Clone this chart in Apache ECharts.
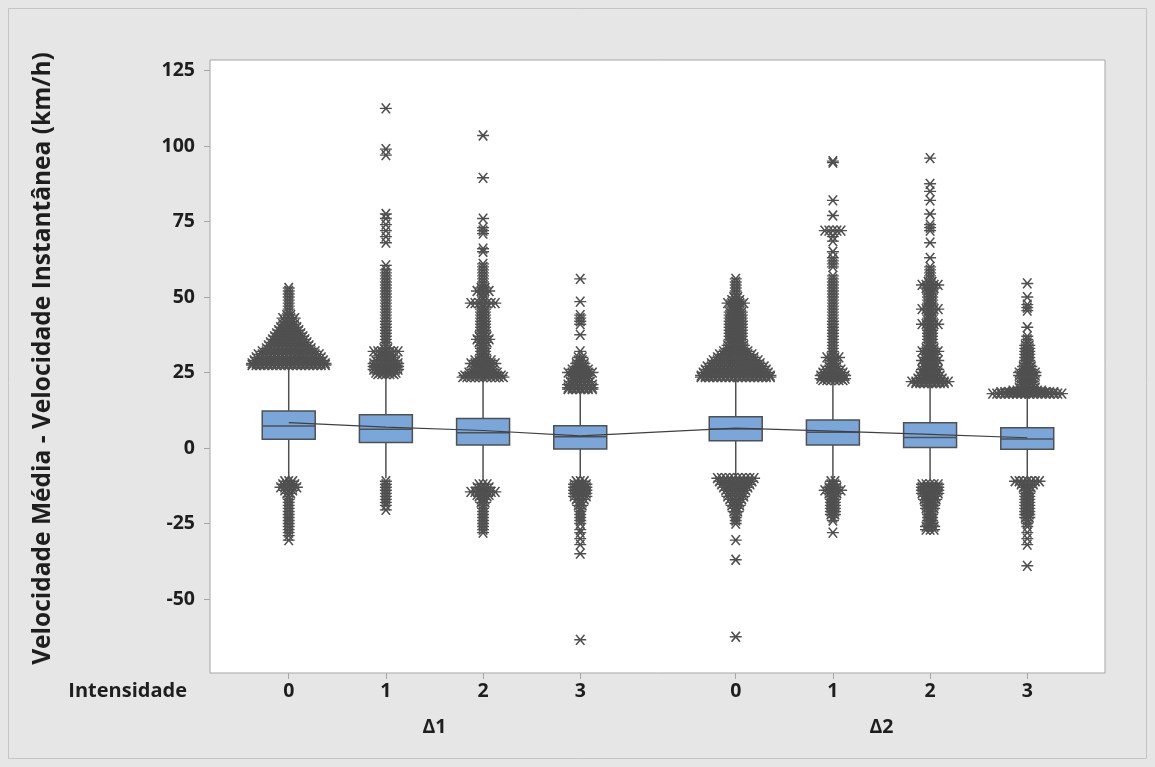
<!DOCTYPE html>
<html><head><meta charset="utf-8">
<script src="https://cdn.jsdelivr.net/npm/echarts@6/dist/echarts.min.js"></script>
<style>html,body{margin:0;padding:0;background:#e6e6e6}#c{width:1155px;height:767px}</style>
</head><body><div id="c"></div>
<script>
// ---- data ----
const groups = ['Δ1', 'Δ2'];
const levels = ['0', '1', '2', '3'];
const yTicks = [-50, -25, 0, 25, 50, 75, 100, 125];

const q1 = [2.9, 1.8, 1.0, -0.3, 2.4, 1.0, 0.2, -0.4];
const median = [7.3, 6.2, 5.1, 3.7, 6.3, 5.2, 3.5, 3.0];
const q3 = [12.3, 11.0, 9.8, 7.4, 10.4, 9.3, 8.4, 6.7];
const mean = [8.4, 6.9, 5.8, 4.0, 6.6, 5.6, 4.5, 3.4];
const whiskerHigh = [26.5, 24, 23, 19, 22.5, 21.5, 20.5, 17.5];
const whiskerLow = [-10.5, -10, -11, -10, -9, -10, -11, -10.5];

// outliers: [value, number of coincident asterisks at that level]
const outD1I0 = [[53,1],[52,1],[51,1],[50,1],[49,1],[48,1],[47,1],[46,1],[45,1],[44,2],[43,4],[42,3],[41,4],[40,5],[39,6],[38,7],[37,8],[36,9],[35,10],[34,11],[33,12],[32,14],[31,16],[30,17],[29,18],[28,19],[27.5,19],
  [-11,3],[-12,4],[-13,5],[-14,3],[-15,2],[-16,1],[-17,1],[-18,1],[-19,1],[-20,1],[-21,1],[-22,1],[-23,1],[-24,1],[-25,1],[-26,1],[-27,1],[-28,1],[-29,1],[-30.5,1]];
const outD1I1 = [[112.5,1],[99,1],[97,1],[77.5,1],[76,1],[74,1],[72,1],[70,1],[68,1],[60.5,1],[59,1],[58,1],[57,1],[56,1],[55,1],[54,1],[53,1],[52,1],[51,1],[50,1],[49,1],[48,1],[47,1],[46,1],[45,1],[44,1],[43,1],[42,1],[41,1],[40,1],[39,1],[38,1],[37,1],[36,1],[35,1],[34,1],[33,2],[32,7],[31,3],[30,5],[29,6],[28,7],[27,7],[26,7],[25,6],[24.5,5],
  [-11,1],[-12,1],[-13,1],[-14,1],[-15,1],[-16,1],[-17,1],[-18,1],[-19,1],[-20.5,1]];
const outD1I2 = [[103.5,1],[89.5,1],[76,1],[73,1],[72,1],[71,1],[66,1],[65,1],[61,1],[60,1],[59,1],[58,1],[57,1],[56,1],[55,1],[54,1],[53,2],[52,4],[51,1],[50,1],[49,1],[48,7],[47,1],[46,2],[45,2],[44,2],[43,2],[42,2],[41,2],[40,2],[39,2],[38,2],[37,3],[36,4],[35,3],[34,2],[33,2],[32,2],[31,2],[30,2],[29,5],[28,7],[27,5],[26,6],[25,8],[24,10],[23.5,11],
  [-12,3],[-13,4],[-14.5,7],[-15.5,4],[-16,3],[-17,2],[-18,2],[-19,1],[-20,1],[-21,1],[-22,1],[-23,1],[-24,1],[-25,1],[-26,1],[-27,1],[-28,1]];
const outD1I3 = [[56,1],[48.5,1],[44,1],[43,1],[42,1],[41,1],[37.5,1],[32,1],[30,2],[29,2],[28,3],[27,3],[26,5],[25,7],[24,5],[23,5],[22,6],[21,7],[20,7],[19.5,7],
  [-11,3],[-12,4],[-13,4],[-14,4],[-15,4],[-16,4],[-17,3],[-18,2],[-19,2],[-20,1],[-21,1],[-22,1],[-23,1],[-24,1],[-25,1],[-27,1],[-28,1],[-30,1],[-32,1],[-35,1],[-63.5,1]];
const outD2I0 = [[56,1],[55,1],[54,1],[53,1],[52,1],[51,1],[50,2],[49,3],[48,5],[47,3],[46,3],[45,4],[44,4],[43,4],[42,4],[41,4],[40,4],[39,4],[38,4],[37,4],[36,4],[35,4],[34,5],[33,5],[32,7],[31,9],[30,10],[29,12],[28,13],[27,15],[26,16],[25,17],[24,18],[23.5,18],
  [-10,10],[-11,9],[-12,8],[-13,7],[-14,6],[-15,5],[-16,5],[-17,4],[-18,3],[-19,3],[-20,2],[-21,2],[-22,1],[-23,1],[-24,1],[-25,1],[-30.5,1],[-37,1],[-62.5,1]];
const outD2I1 = [[95,1],[94.5,1],[82,1],[77,1],[72,5],[70,1],[68.5,1],[65,1],[63,1],[62,1],[61,1],[60,1],[57,1],[56,1],[55,1],[54,1],[53,1],[52,1],[51,1],[50,1],[49,1],[48,1],[47,1],[46,1],[45,1],[44,1],[43,1],[42,1],[41,1],[40,1],[39,1],[38,1],[37,1],[36,1],[35,1],[34,1],[33,1],[32,1],[31,1],[30,4],[29,2],[28,2],[27,3],[26,5],[25,6],[24,7],[23,7],[22.5,6],
  [-11,2],[-12,2],[-13,3],[-14,5],[-15,3],[-16,2],[-17,2],[-18,2],[-19,2],[-20,2],[-21,2],[-22,2],[-23,1],[-24,1],[-28,1]];
const outD2I2 = [[96,1],[87.5,1],[85,1],[82,1],[77.5,1],[74,1],[73,1],[72,1],[68,1],[63,1],[60,1],[59,1],[58,1],[57,1],[56,1],[55,2],[54,5],[53,3],[52,2],[51,2],[50,2],[49,2],[48,2],[47,2],[46,5],[45,2],[44,2],[43,2],[42,2],[41,5],[40,2],[39,2],[38,2],[37,2],[36,2],[35,2],[34,2],[33,3],[32,5],[31,3],[30,3],[29,5],[28,4],[27,4],[26,5],[25,5],[24,6],[23,7],[22,10],[21.5,8],
  [-12,5],[-13,5],[-14,5],[-15,5],[-16,4],[-17,4],[-18,3],[-19,3],[-20,3],[-21,2],[-22,2],[-23,2],[-24,2],[-25,2],[-26,3],[-27,3]];
const outD2I3 = [[54.5,1],[50,1],[47.5,1],[46.5,1],[45.5,1],[40,1],[37,1],[36,1],[35,1],[34,2],[33,2],[32,2],[31,2],[30,2],[29,2],[28,2],[27,3],[26,3],[25,5],[24,5],[23,4],[22,4],[21,4],[20,5],[19,8],[18.5,14],[18,18],
  [-11,7],[-12,4],[-13,3],[-14,2],[-15,2],[-16,2],[-17,2],[-18,2],[-19,2],[-20,2],[-21,2],[-22,2],[-23,2],[-24,1],[-25,1],[-26,1],[-28,1],[-30,1],[-32,1],[-39,1]];
const outliers = [outD1I0, outD1I1, outD1I2, outD1I3, outD2I0, outD2I1, outD2I2, outD2I3];

// ---- layout ----
const GROUP_GAP = 0.6;
const BOX_W = 0.545;
const SPREAD = 0.042;
const pos = [];
groups.forEach((g, gi) => levels.forEach((l, li) => pos.push(gi * (levels.length + GROUP_GAP) + li)));
const groupCenters = groups.map((g, gi) => gi * (levels.length + GROUP_GAP) + (levels.length - 1) / 2);

const FONT = '"Open Sans", "Noto Sans", sans-serif';
const TXT = '#1e1e1e';
const DARK = '#505050';
const TICK_FS = 19.5;

const boxData = pos.map((p, i) => [p, q1[i], median[i], q3[i], whiskerLow[i], whiskerHigh[i]]);
const outData = [];
outliers.forEach((arr, i) => arr.forEach(([v, n]) => {
  for (let k = 0; k < n; k++) outData.push([pos[i] + (k - (n - 1) / 2) * SPREAD, v]);
}));
const meanData = pos.map((p, i) => [p, mean[i]]);

const chart = echarts.init(document.getElementById('c'), null, {renderer: 'canvas'});
chart.setOption({
  backgroundColor: '#e6e6e6',
  animation: false,
  grid: {left: 210, right: 50, top: 60, bottom: 94, show: true, backgroundColor: '#ffffff', borderColor: '#a6a6a6', borderWidth: 1},
  xAxis: [{
    type: 'value', min: -0.81, max: 8.4,
    axisLine: {show: false, onZero: false}, splitLine: {show: false},
    axisTick: {show: true, customValues: pos, length: 6, lineStyle: {color: '#a6a6a6'}},
    axisLabel: {customValues: pos, margin: 8, color: TXT, fontFamily: FONT, fontWeight: 'bold', fontSize: TICK_FS,
      formatter: v => { const i = pos.findIndex(p => Math.abs(p - v) < 1e-6); return i < 0 ? '' : levels[i % levels.length]; }}
  }, {
    type: 'value', min: -0.81, max: 8.4, position: 'bottom', offset: 36,
    axisLine: {show: false, onZero: false}, splitLine: {show: false}, axisTick: {show: false},
    axisLabel: {customValues: groupCenters, margin: 8, color: TXT, fontFamily: FONT, fontWeight: 'bold', fontSize: TICK_FS,
      formatter: v => { const i = groupCenters.findIndex(p => Math.abs(p - v) < 1e-6); return i < 0 ? '' : groups[i]; }}
  }],
  yAxis: {
    type: 'value', min: -74.5, max: 128.5,
    name: 'Velocidade Média - Velocidade Instantânea (km/h)', nameLocation: 'middle', nameGap: 154,
    nameTextStyle: {color: TXT, fontFamily: FONT, fontWeight: 'bold', fontSize: 24.5, padding: [0, 0, 0, 16]},
    axisLine: {show: false, onZero: false}, splitLine: {show: false},
    axisTick: {show: true, customValues: yTicks, length: 6, lineStyle: {color: '#a6a6a6'}},
    axisLabel: {customValues: yTicks, margin: 15, color: TXT, fontFamily: FONT, fontWeight: 'bold', fontSize: TICK_FS}
  },
  graphic: [
    {type: 'rect', silent: true, shape: {x: 8.5, y: 8.5, width: 1138, height: 750}, style: {fill: 'none', stroke: '#c4c4c4', lineWidth: 1}},
    {type: 'text', x: 187, y: 691, style: {text: 'Intensidade', align: 'right', verticalAlign: 'middle', font: 'bold 20px ' + FONT, fill: TXT}}
  ],
  series: [{
    type: 'custom', z: 2,
    data: boxData,
    renderItem: (params, api) => {
      const x = api.value(0);
      const pQ1 = api.coord([x, api.value(1)]);
      const pMed = api.coord([x, api.value(2)]);
      const pQ3 = api.coord([x, api.value(3)]);
      const pLo = api.coord([x, api.value(4)]);
      const pHi = api.coord([x, api.value(5)]);
      const hw = api.size([BOX_W, 0])[0] / 2;
      const ls = {stroke: DARK, lineWidth: 1.5};
      return {type: 'group', children: [
        {type: 'line', shape: {x1: pQ3[0], y1: pQ3[1], x2: pHi[0], y2: pHi[1]}, style: ls},
        {type: 'line', shape: {x1: pQ1[0], y1: pQ1[1], x2: pLo[0], y2: pLo[1]}, style: ls},
        {type: 'rect', shape: {x: pQ3[0] - hw, y: pQ3[1], width: 2 * hw, height: pQ1[1] - pQ3[1]}, style: {fill: '#7aa6da', stroke: DARK, lineWidth: 1.5}},
        {type: 'line', shape: {x1: pMed[0] - hw, y1: pMed[1], x2: pMed[0] + hw, y2: pMed[1]}, style: ls}
      ]};
    }
  }, {
    type: 'scatter', z: 3,
    data: outData,
    symbol: 'path://M0 5L12 5M1.8 0L10.2 10M10.2 0L1.8 10',
    symbolSize: [12, 10],
    itemStyle: {color: 'transparent', borderColor: DARK, borderWidth: 1.5, opacity: 1}
  }, {
    type: 'line', z: 4,
    data: meanData, symbol: 'none',
    lineStyle: {color: '#404040', width: 1.2}
  }]
});
</script>
</body></html>
